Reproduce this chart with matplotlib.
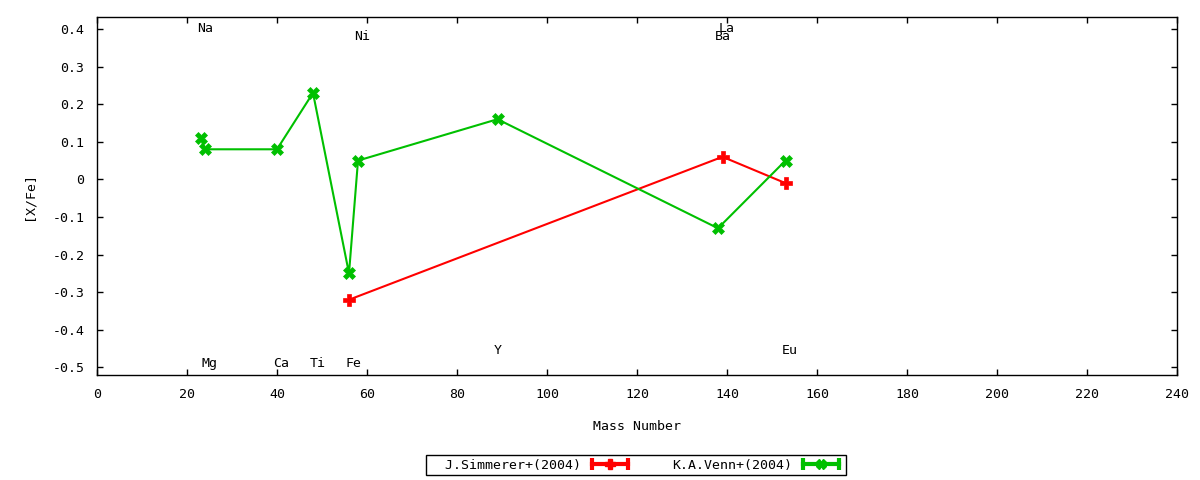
import matplotlib
matplotlib.use('Agg')
import matplotlib.pyplot as plt
from matplotlib.lines import Line2D
from matplotlib.legend_handler import HandlerLine2D, HandlerTuple

# [X/Fe] abundances vs mass number
simm_mass = [56, 139, 153]
simm_xfe = [-0.32, 0.06, -0.01]

venn_mass = [23, 24, 40, 48, 56, 58, 89, 138, 153]
venn_xfe = [0.11, 0.08, 0.08, 0.23, -0.25, 0.05, 0.16, -0.13, 0.05]

elem_names = ['Na', 'Mg', 'Ca', 'Ti', 'Fe', 'Ni', 'Y', 'Ba', 'La', 'Eu']
elem_mass = [23, 24, 40, 48, 56, 58, 89, 138, 139, 153]
elem_label_y = [0.40, -0.49, -0.49, -0.49, -0.49, 0.38, -0.455, 0.38, 0.40, -0.455]

red = '#ff0000'
green = '#00c000'
plt.rcParams['font.family'] = ['DejaVu Sans Mono']
fs = 9.5

fig = plt.figure(figsize=(12, 4.8), dpi=100)
ax = fig.add_axes([97/1200, 1 - 375.3/480, (1177 - 97)/1200, (375.3 - 17.3)/480])

ax.plot(simm_mass, simm_xfe, color=red, lw=1.5, marker='P', ms=8, mew=0.5)
ax.plot(venn_mass, venn_xfe, color=green, lw=1.5, marker='X', ms=8, mew=0.5)

for name, m, y in zip(elem_names, elem_mass, elem_label_y):
    ax.annotate(name, (m, y), xytext=(-3.5, 0), textcoords='offset pixels',
                ha='left', va='center', fontsize=fs)

ax.set_xlim(0, 240)
ax.set_ylim(-0.521, 0.431)
ax.set_xticks(range(0, 241, 20))
ax.set_yticks([0.4, 0.3, 0.2, 0.1, 0, -0.1, -0.2, -0.3, -0.4, -0.5])
ax.set_yticklabels(['0.4', '0.3', '0.2', '0.1', '0', '-0.1', '-0.2', '-0.3', '-0.4', '-0.5'])
ax.tick_params(direction='in', top=True, right=True, length=4, width=1,
               labelsize=fs, pad=9)
for s in ax.spines.values():
    s.set_linewidth(1)
ax.set_xlabel('Mass Number', fontsize=fs, labelpad=14)
ax.set_ylabel('[X/Fe]', fontsize=fs, labelpad=12)

# gnuplot style key samples: line with end caps + point in the middle
hmap = {}
handles = []
for c, mk in [(red, 'P'), (green, 'X')]:
    cap = Line2D([], [], color=c, lw=3, marker='|', ms=8, mew=3)
    mid = Line2D([], [], color=c, lw=0, marker=mk, ms=7)
    hmap[cap] = HandlerLine2D(numpoints=2)
    hmap[mid] = HandlerLine2D(numpoints=1)
    handles.append((cap, mid))
hmap[tuple] = HandlerTuple(ndivide=1)

leg = fig.legend(handles, ['  J.Simmerer+(2004)', 'K.A.Venn+(2004)'],
                 handler_map=hmap, loc='center', bbox_to_anchor=(636/1200, 1 - 465/480),
                 ncol=2, markerfirst=False, frameon=True, fancybox=False,
                 edgecolor='black', framealpha=1, fontsize=fs,
                 handlelength=3.3, columnspacing=3.1, borderpad=0.25,
                 handletextpad=0.5)
leg.get_frame().set_linewidth(1)

fig.savefig('out.png', dpi=100)
